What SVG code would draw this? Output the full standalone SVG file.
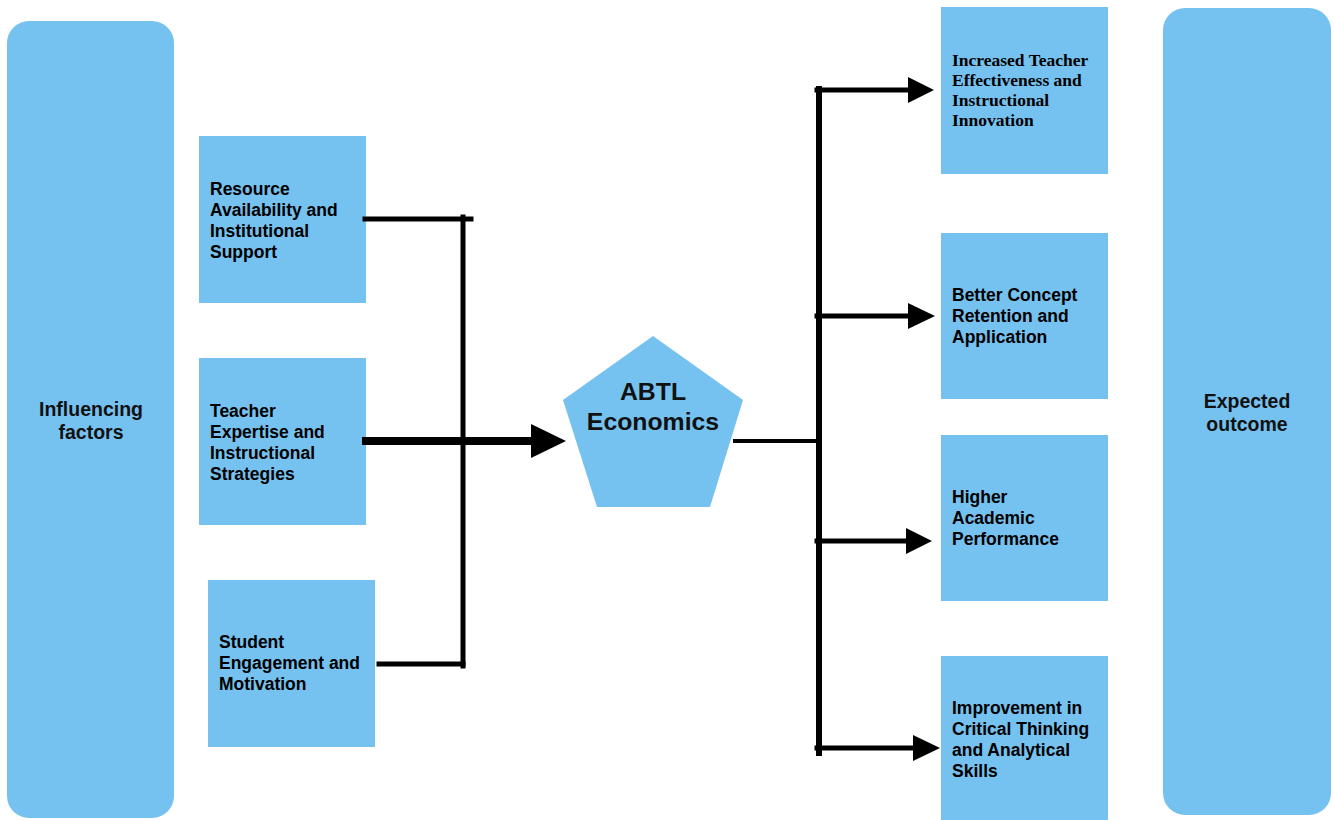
<svg xmlns="http://www.w3.org/2000/svg" width="1334" height="820" viewBox="0 0 1334 820">
<style>
.bx{fill:#75C2F0}
.t{font-family:"Liberation Sans",Arial,sans-serif;font-weight:bold;font-size:17.5px;fill:#000}
.ts{font-family:"Liberation Serif","Times New Roman",serif;font-weight:bold;font-size:17.5px;fill:#000}
.big{font-family:"Liberation Sans",Arial,sans-serif;font-weight:bold;font-size:19.5px;fill:#111}
.ln{stroke:#000;fill:none;stroke-linecap:square}
.ah{fill:#000}
</style>
<rect width="1334" height="820" fill="#fff"/>
<g id="influencing">
<rect class="bx" x="7" y="21" width="167" height="797" rx="22"/>
<text class="big" text-anchor="middle" x="91" y="416">Influencing</text>
<text class="big" text-anchor="middle" x="91" y="439">factors</text>
</g>
<g id="outcome">
<rect class="bx" x="1163" y="8" width="168" height="807" rx="22"/>
<text class="big" text-anchor="middle" x="1247" y="408">Expected</text>
<text class="big" text-anchor="middle" x="1247" y="431">outcome</text>
</g>
<g id="resource">
<rect class="bx" x="199" y="136" width="167" height="167"/>
<text class="t" x="210" y="195">Resource</text>
<text class="t" x="210" y="216">Availability and</text>
<text class="t" x="210" y="237">Institutional</text>
<text class="t" x="210" y="258">Support</text>
</g>
<g id="teacher">
<rect class="bx" x="199" y="358" width="167" height="167"/>
<text class="t" x="210" y="417">Teacher</text>
<text class="t" x="210" y="438">Expertise and</text>
<text class="t" x="210" y="459">Instructional</text>
<text class="t" x="210" y="480">Strategies</text>
</g>
<g id="student">
<rect class="bx" x="208" y="580" width="167" height="167"/>
<text class="t" x="219" y="648">Student</text>
<text class="t" x="219" y="669">Engagement and</text>
<text class="t" x="219" y="690">Motivation</text>
</g>
<g id="abtl">
<polygon class="bx" points="653,336 743,400 710,507 597,507 563,400"/>
<text class="big" style="font-size:24.8px" text-anchor="middle" x="653" y="400">ABTL</text>
<text class="big" style="font-size:24.8px" text-anchor="middle" x="653" y="430">Economics</text>
</g>
<g id="effectiveness">
<rect class="bx" x="941" y="7" width="167" height="167"/>
<text class="ts" x="952" y="66">Increased Teacher</text>
<text class="ts" x="952" y="86">Effectiveness and</text>
<text class="ts" x="952" y="106">Instructional</text>
<text class="ts" x="952" y="126">Innovation</text>
</g>
<g id="retention">
<rect class="bx" x="941" y="233" width="167" height="166"/>
<text class="t" x="952" y="301">Better Concept</text>
<text class="t" x="952" y="322">Retention and</text>
<text class="t" x="952" y="343">Application</text>
</g>
<g id="performance">
<rect class="bx" x="941" y="435" width="167" height="166"/>
<text class="t" x="952" y="503">Higher</text>
<text class="t" x="952" y="524">Academic</text>
<text class="t" x="952" y="545">Performance</text>
</g>
<g id="critical">
<rect class="bx" x="941" y="656" width="167" height="164"/>
<text class="t" x="952" y="714">Improvement in</text>
<text class="t" x="952" y="735">Critical Thinking</text>
<text class="t" x="952" y="756">and Analytical</text>
<text class="t" x="952" y="777">Skills</text>
</g>
<g id="connectors">
<path class="ln" stroke-width="5" d="M365,219 H471"/>
<path class="ln" stroke-width="5" d="M463,217 V666"/>
<path class="ln" stroke-width="5" d="M379,664 H463"/>
<path class="ln" stroke-width="8" stroke-linecap="butt" d="M366,441 H533"/>
<polygon class="ah" points="531,424 566,441 531,458"/>
<path class="ln" stroke-width="4" stroke-linecap="butt" d="M735,441 H818"/>
<path class="ln" stroke-width="6" d="M819,89 V753"/>
<path class="ln" stroke-width="5" stroke-linecap="butt" d="M817,90 H910"/>
<polygon class="ah" points="908,77 934,90 908,103"/>
<path class="ln" stroke-width="5" stroke-linecap="butt" d="M817,316 H910"/>
<polygon class="ah" points="908,303 935,316 908,329"/>
<path class="ln" stroke-width="5" stroke-linecap="butt" d="M817,541 H908"/>
<polygon class="ah" points="906,528 932,541 906,554"/>
<path class="ln" stroke-width="5" stroke-linecap="butt" d="M817,748 H915"/>
<polygon class="ah" points="913,735 940,748 913,761"/>
</g>
</svg>
